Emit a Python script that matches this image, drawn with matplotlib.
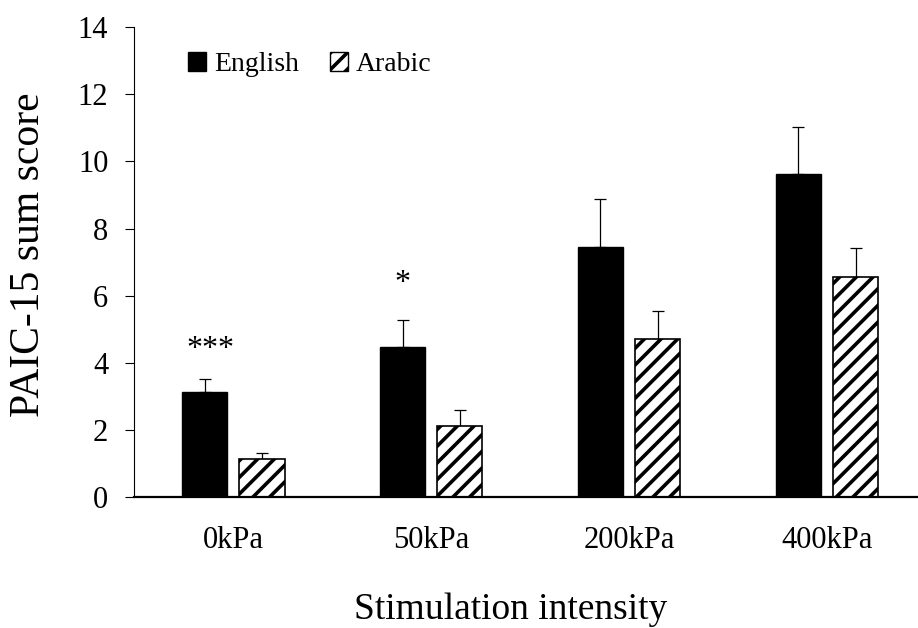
import matplotlib
matplotlib.use('Agg')
import matplotlib.pyplot as plt
from matplotlib.patches import Patch
import numpy as np

categories = ['0kPa', '50kPa', '200kPa', '400kPa']
english_mean = [3.11, 4.46, 7.44, 9.63]
english_err = [0.39, 0.81, 1.43, 1.41]
arabic_mean = [1.12, 2.10, 4.69, 6.55]
arabic_err = [0.19, 0.48, 0.86, 0.88]
stars = ['***', '*', '', '']
star_y = [4.4, 6.35, 0, 0]

plt.rcParams['font.family'] = ['Liberation Serif', 'DejaVu Serif']
plt.rcParams['hatch.linewidth'] = 2.6
plt.rcParams['hatch.color'] = 'black'

fig = plt.figure(figsize=(9.18, 6.28), dpi=100)
ax = fig.add_axes([0.146, 0.209, 0.8627, 0.7475])

x = np.arange(len(categories))
width = 0.232
off = 0.144

ax.bar(x - off, english_mean, width, color='black', edgecolor='black', linewidth=1, zorder=2)
ax.bar(x + off, arabic_mean, width, color='white', edgecolor='black', linewidth=1.2,
       hatch='//', zorder=2)

lower = [0] * len(categories)
ax.errorbar(x - off, english_mean, yerr=[lower, english_err], fmt='none', ecolor='black',
            elinewidth=0.9, capsize=4.3, capthick=0.9, zorder=1)
ax.errorbar(x + off, arabic_mean, yerr=[lower, arabic_err], fmt='none', ecolor='black',
            elinewidth=0.9, capsize=4.3, capthick=0.9, zorder=1)

# significance marks above the English bars
for i, s in enumerate(stars):
    if s:
        nudge = 0.03 if len(s) > 1 else 0
        ax.text(x[i] - off + nudge, star_y[i], s, ha='center', va='center', fontsize=23)

ax.set_xlim(-0.5, 3.5)
ax.set_ylim(0, 14)
ax.set_yticks(np.arange(0, 15, 2))
ax.set_xticks(x)
ax.set_xticklabels(categories)
ax.tick_params(axis='y', labelsize=22, length=6.5, width=0.8, pad=12)
ax.tick_params(axis='x', labelsize=22, length=0, pad=21)

for side in ['top', 'right']:
    ax.spines[side].set_visible(False)
ax.spines['left'].set_linewidth(0.8)
ax.spines['bottom'].set_linewidth(1.6)

ax.set_ylabel('PAIC-15 sum score', fontsize=30)
ax.yaxis.set_label_coords(-0.108, 0.515)
ax.set_xlabel('Stimulation intensity', fontsize=27)
ax.xaxis.set_label_coords(0.475, -0.205)

handles = [Patch(facecolor='black', edgecolor='black', label='English'),
           Patch(facecolor='white', edgecolor='black', hatch='//', label='Arabic')]
ax.legend(handles=handles, loc='upper left', bbox_to_anchor=(0.068, 0.948), ncol=2,
          frameon=False, fontsize=20, handlelength=0.65, handleheight=0.7,
          handletextpad=0.3, columnspacing=1.1, borderpad=0, borderaxespad=0)

fig.savefig('out.png', dpi=100)
